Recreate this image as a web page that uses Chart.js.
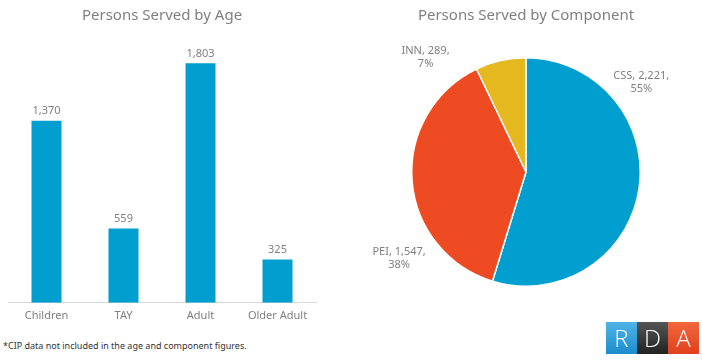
<!DOCTYPE html>
<html>
<head>
<meta charset="utf-8">
<script src="https://cdn.jsdelivr.net/npm/chart.js@4"></script>
<style>
  body { margin: 0; width: 702px; height: 360px; background: #fff; position: relative; overflow: hidden; font-family: "Noto Sans", sans-serif; }
  #ageWrap { position: absolute; left: 0; top: 0; width: 324px; height: 330px; }
  #compWrap { position: absolute; left: 356px; top: 0; width: 340px; height: 330px; }
  .note { position: absolute; left: 3px; top: 339px; font-size: 9px; color: #333; }
  .logo { position: absolute; left: 606px; top: 322px; display: flex; height: 32px; }
  .logo span { width: 31px; height: 32px; line-height: 32px; text-align: center; color: #fff; font-size: 24px; font-weight: 300; font-family: "Open Sans", sans-serif; }
</style>
</head>
<body>
<div id="ageWrap"><canvas id="ageChart"></canvas></div>
<div id="compWrap"><canvas id="compChart"></canvas></div>
<div class="note">*CIP data not included in the age and component figures.</div>
<div class="logo">
  <span style="background:linear-gradient(#4fb3e6,#1d8ccc)">R</span>
  <span style="background:linear-gradient(#555,#222)">D</span>
  <span style="background:linear-gradient(#f2683c,#e0401c)">A</span>
</div>
<script>
const ageLabels = ['Children', 'TAY', 'Adult', 'Older Adult'];
const ageValues = [1370, 559, 1803, 325];

const compLabels = ['CSS', 'PEI', 'INN'];
const compValues = [2221, 1547, 289];
const compColors = ['#009fcf', '#ef4b23', '#e5b820'];

const grey = '#808080';
const fmt = v => v.toLocaleString('en-US');

// value labels above each bar
const barLabels = {
    id: 'barLabels',
    afterDatasetsDraw(chart) {
        const ctx = chart.ctx;
        const meta = chart.getDatasetMeta(0);
        ctx.save();
        ctx.font = '11px "Noto Sans"';
        ctx.fillStyle = grey;
        ctx.textAlign = 'center';
        ctx.textBaseline = 'bottom';
        meta.data.forEach((bar, i) => {
            ctx.fillText(fmt(ageValues[i]), bar.x, bar.y - 4);
        });
        ctx.restore();
    }
};

// "name, value, pct" labels placed around the pie
const pieLabels = {
    id: 'pieLabels',
    afterDatasetsDraw(chart) {
        const ctx = chart.ctx;
        const meta = chart.getDatasetMeta(0);
        const arc0 = meta.data[0];
        const cx = arc0.x, cy = arc0.y, r = arc0.outerRadius;
        const total = compValues.reduce((a, b) => a + b, 0);
        // angle (deg, canvas orientation) and distance as a multiple of radius
        const spots = [[-38, 1.28], [146, 1.34], [-131, 1.34]];
        ctx.save();
        ctx.font = '11px "Noto Sans"';
        ctx.fillStyle = grey;
        ctx.textAlign = 'center';
        ctx.textBaseline = 'middle';
        compLabels.forEach((name, i) => {
            const a = spots[i][0] * Math.PI / 180;
            const x = cx + Math.cos(a) * r * spots[i][1];
            const y = cy + Math.sin(a) * r * spots[i][1];
            const pct = Math.round(compValues[i] / total * 100) + '%';
            ctx.fillText(name + ', ' + fmt(compValues[i]) + ',', x, y - 6);
            ctx.fillText(pct, x, y + 7);
        });
        ctx.restore();
    }
};

const titleFont = { family: '"Noto Sans"', size: 15, weight: 'normal' };

new Chart(document.getElementById('ageChart'), {
    type: 'bar',
    data: {
        labels: ageLabels,
        datasets: [{
            data: ageValues,
            backgroundColor: '#009fcf',
            barPercentage: 0.39,
            categoryPercentage: 1
        }]
    },
    options: {
        responsive: true,
        maintainAspectRatio: false,
        animation: false,
        layout: { padding: { left: 8, right: 8, top: 0, bottom: 2 } },
        plugins: {
            legend: { display: false },
            tooltip: { enabled: false },
            title: {
                display: true,
                text: 'Persons Served by Age',
                color: grey,
                font: titleFont,
                padding: { top: 7, bottom: 12 }
            }
        },
        scales: {
            x: {
                grid: { display: false, drawTicks: false },
                border: { color: '#d9d9d9' },
                ticks: { color: grey, font: { family: '"Noto Sans"', size: 11 }, padding: 6 }
            },
            y: { display: false, min: 0, max: 2000 }
        }
    },
    plugins: [barLabels]
});

new Chart(document.getElementById('compChart'), {
    type: 'pie',
    data: {
        labels: compLabels,
        datasets: [{
            data: compValues,
            backgroundColor: compColors,
            borderColor: '#fff',
            borderWidth: 1.5,
            hoverOffset: 0
        }]
    },
    options: {
        responsive: true,
        maintainAspectRatio: false,
        animation: false,
        layout: { padding: { left: 55, right: 55, top: 0, bottom: 43 } },
        plugins: {
            legend: { display: false },
            tooltip: { enabled: false },
            title: {
                display: true,
                text: 'Persons Served by Component',
                color: grey,
                font: titleFont,
                padding: { top: 7, bottom: 32 }
            }
        }
    },
    plugins: [pieLabels]
});
</script>
</body>
</html>
